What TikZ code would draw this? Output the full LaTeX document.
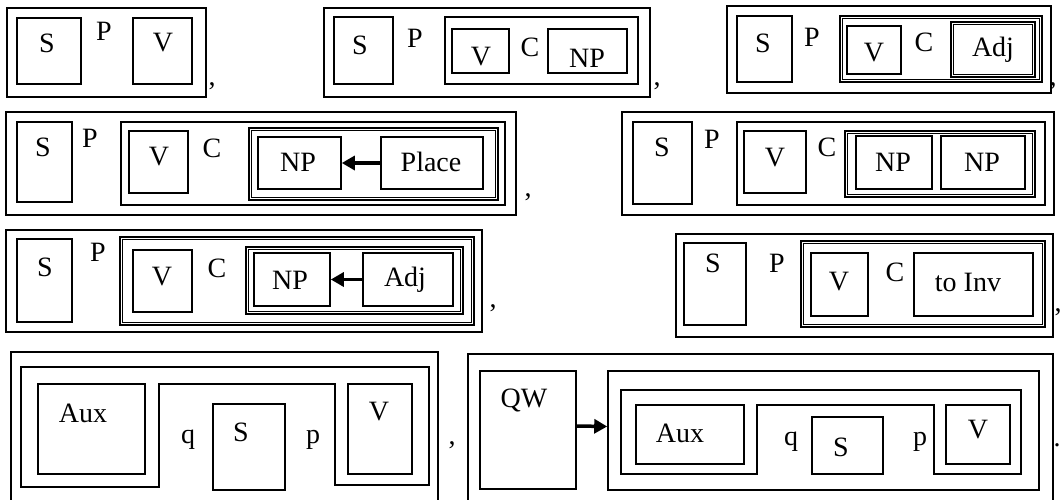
\documentclass[tikz,border=0pt]{standalone}
\usepackage{fontspec}
\setmainfont{Liberation Serif}
\usetikzlibrary{arrows.meta,fit}
\newcommand\dblin[1]{\draw[inln] ([shift={(3,3)}]#1.north west) rectangle ([shift={(-3,-3)}]#1.south east);}
\begin{document}
\begin{tikzpicture}[x=1pt,y=-1pt,
  bx/.style={draw, line width=1.6pt, inner sep=0pt},
  dbx/.style={draw, line width=1.2pt, inner sep=0pt},
  inln/.style={draw, line width=1.1pt},
  frame/.style={draw, line width=1.8pt, inner sep=0pt},
  stepbox/.style={draw, line width=1.6pt},
  lbl/.style={inner sep=0pt, font=\fontsize{28}{32}\selectfont},
  arr/.style={line width=3.5pt, -{Triangle[length=13pt,width=14pt]}},
]
\useasboundingbox (0,0) rectangle (1063,499);
\clip (0,0) rectangle (1063,499);

% ---------- Panel A ----------
\node[frame, fit={(7,8)(206,97)}] (a-out) {};
\node[bx, fit={(17,18)(81,84)}] (a-s) {};
\node[bx, fit={(133,18)(192,84)}] (a-v) {};
\node[lbl] (a-st) at (47,43) {S};
\node[lbl] (a-p) at (104,31) {P};
\node[lbl] (a-vt) at (163,43) {V};
\node[lbl] (a-cm) at (212,86) {,};

% ---------- Panel B ----------
\node[frame, fit={(324,8)(650,97)}] (b-out) {};
\node[bx, fit={(334,17)(393,84)}] (b-s) {};
\node[bx, fit={(445,17)(638,84)}] (b-c1) {};
\node[bx, fit={(452,29)(509,73)}] (b-v) {};
\node[bx, fit={(548,29)(627,73)}] (b-np) {};
\node[lbl] (b-st) at (360,45) {S};
\node[lbl] (b-p) at (415,38) {P};
\node[lbl] (b-vt) at (481,57) {V};
\node[lbl] (b-c) at (530,47) {C};
\node[lbl] (b-npt) at (587,58) {NP};
\node[lbl] (b-cm) at (657,86) {,};

% ---------- Panel C ----------
\node[frame, fit={(727,6)(1051,93)}] (c-out) {};
\node[bx, fit={(737,16)(792,82)}] (c-s) {};
\node[dbx, fit={(840,16)(1042,82)}] (c-c1) {};
\dblin{c-c1}
\node[bx, fit={(847,26)(901,74)}] (c-v) {};
\node[dbx, fit={(951,22)(1035,77)}] (c-adj) {};
\dblin{c-adj}
\node[lbl] (c-st) at (763,43) {S};
\node[lbl] (c-p) at (812,37) {P};
\node[lbl] (c-vt) at (874,53) {V};
\node[lbl] (c-c) at (924,42) {C};
\node[lbl] (c-adjt) at (993,50) {Adj};
\node[lbl] (c-cm) at (1053,86) {,};

% ---------- Panel D ----------
\node[frame, fit={(6,112)(516,215)}] (d-out) {};
\node[bx, fit={(17,122)(72,202)}] (d-s) {};
\node[bx, fit={(121,122)(505,205)}] (d-c1) {};
\node[bx, fit={(129,131)(188,193)}] (d-v) {};
\node[dbx, fit={(249,128)(498,200)}] (d-c2) {};
\dblin{d-c2}
\node[bx, fit={(258,137)(341,189)}] (d-np) {};
\node[bx, fit={(381,137)(483,189)}] (d-pl) {};
\node[lbl] (d-st) at (43,147) {S};
\node[lbl] (d-p) at (90,138) {P};
\node[lbl] (d-vt) at (159,157) {V};
\node[lbl] (d-c) at (212,148) {C};
\node[lbl] (d-npt) at (298,162) {NP};
\node[lbl] (d-plt) at (431,162) {Place};
\node[lbl] (d-cm) at (528,197) {,};
\draw[arr] (d-pl.west) -- (d-np.east);

% ---------- Panel E ----------
\node[frame, fit={(622,112)(1054,215)}] (e-out) {};
\node[bx, fit={(633,122)(692,204)}] (e-s) {};
\node[bx, fit={(737,122)(1045,205)}] (e-c1) {};
\node[bx, fit={(744,131)(806,193)}] (e-v) {};
\node[dbx, fit={(845,131)(1035,197)}] (e-c2) {};
\dblin{e-c2}
\node[bx, fit={(856,136)(932,189)}] (e-np1) {};
\node[bx, fit={(941,136)(1025,189)}] (e-np2) {};
\node[lbl] (e-st) at (662,147) {S};
\node[lbl] (e-p) at (712,139) {P};
\node[lbl] (e-vt) at (775,158) {V};
\node[lbl] (e-c) at (827,147) {C};
\node[lbl] (e-np1t) at (893,162) {NP};
\node[lbl] (e-np2t) at (982,162) {NP};

% ---------- Panel F ----------
\node[frame, fit={(6,230)(482,332)}] (f-out) {};
\node[bx, fit={(17,239)(72,322)}] (f-s) {};
\node[dbx, fit={(120,237)(474,325)}] (f-c1) {};
\dblin{f-c1}
\node[bx, fit={(133,250)(192,312)}] (f-v) {};
\node[dbx, fit={(246,247)(463,314)}] (f-c2) {};
\dblin{f-c2}
\node[bx, fit={(254,253)(330,306)}] (f-np) {};
\node[bx, fit={(363,253)(453,306)}] (f-adj) {};
\node[lbl] (f-st) at (45,267) {S};
\node[lbl] (f-p) at (98,252) {P};
\node[lbl] (f-vt) at (162,277) {V};
\node[lbl] (f-c) at (217,268) {C};
\node[lbl] (f-npt) at (290,280) {NP};
\node[lbl] (f-adjt) at (405,280) {Adj};
\node[lbl] (f-cm) at (493,308) {,};
\draw[arr] (f-adj.west) -- (f-np.east);

% ---------- Panel G ----------
\node[frame, fit={(676,234)(1053,337)}] (g-out) {};
\node[bx, fit={(684,243)(746,325)}] (g-s) {};
\node[dbx, fit={(801,241)(1045,327)}] (g-c1) {};
\dblin{g-c1}
\node[bx, fit={(811,253)(868,316)}] (g-v) {};
\node[bx, fit={(914,253)(1033,316)}] (g-inv) {};
\node[lbl] (g-st) at (713,263) {S};
\node[lbl] (g-p) at (777,263) {P};
\node[lbl] (g-vt) at (839,282) {V};
\node[lbl] (g-c) at (895,272) {C};
\node[lbl] (g-invt) at (968,282) {to Inv};
\node[lbl] (g-cm) at (1058,312) {,};

% ---------- Panel H ----------
\node[frame, fit={(11,352)(438,520)}] (h-out) {};
\draw[stepbox] (21,367) -- (429,367) -- (429,485) -- (335,485) -- (335,384)
  -- (159,384) -- (159,487) -- (21,487) -- cycle;
\node[bx, fit={(38,384)(145,474)}] (h-aux) {};
\node[bx, fit={(213,404)(285,490)}] (h-s) {};
\node[bx, fit={(348,384)(412,474)}] (h-v) {};
\node[lbl] (h-auxt) at (83,413) {Aux};
\node[lbl] (h-q) at (188,440) {q};
\node[lbl] (h-st) at (241,432) {S};
\node[lbl] (h-p) at (313,440) {p};
\node[lbl] (h-vt) at (379,412) {V};
\node[lbl] (h-cm) at (452,445) {,};

% ---------- Panel I ----------
\node[frame, fit={(468,354)(1053,520)}] (i-out) {};
\node[bx, fit={(480,371)(576,489)}] (i-qw) {};
\node[bx, fit={(608,371)(1039,490)}] (i-ca) {};
\draw[stepbox] (621,390) -- (1021,390) -- (1021,474) -- (934,474) -- (934,405)
  -- (757,405) -- (757,474) -- (621,474) -- cycle;
\node[bx, fit={(636,405)(744,464)}] (i-aux) {};
\node[bx, fit={(812,417)(883,474)}] (i-s) {};
\node[bx, fit={(946,405)(1010,464)}] (i-v) {};
\node[lbl] (i-qwt) at (524,400) {QW};
\node[lbl] (i-auxt) at (680,433) {Aux};
\node[lbl] (i-q) at (791,442) {q};
\node[lbl] (i-st) at (841,447) {S};
\node[lbl] (i-p) at (920,442) {p};
\node[lbl] (i-vt) at (978,430) {V};
\node[lbl] (i-pd) at (1057,445) {.};
\draw[arr] ([yshift=4pt]i-qw.east) -- ([yshift=4pt]i-ca.west);
\end{tikzpicture}
\end{document}
